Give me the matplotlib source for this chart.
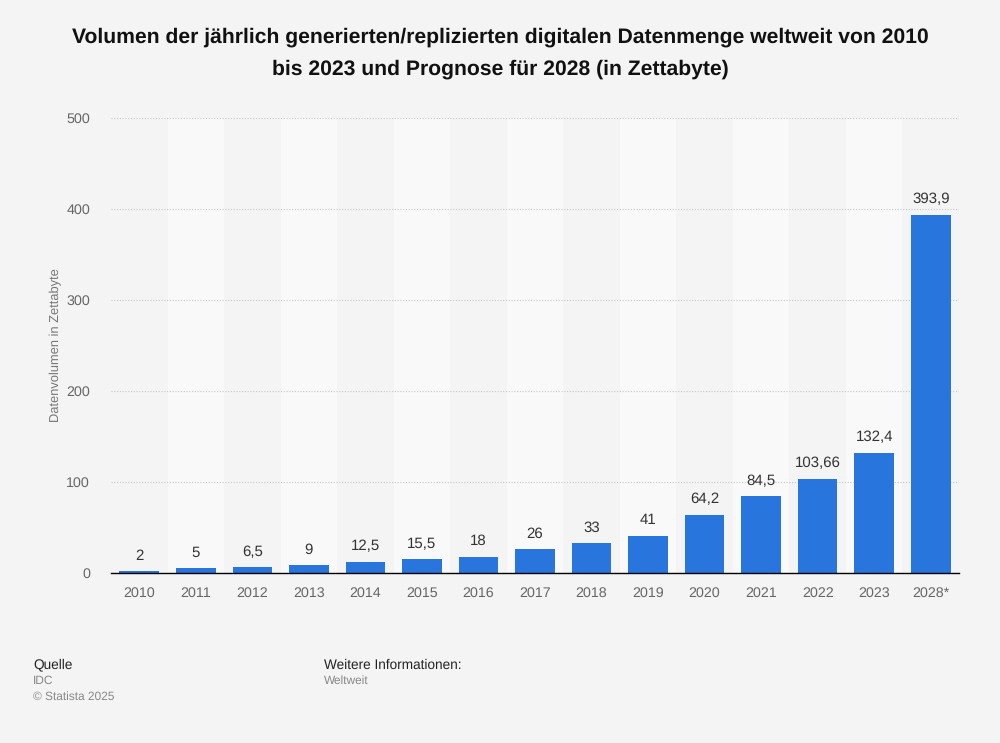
import matplotlib.pyplot as plt
import numpy as np

plt.rcParams['font.family'] = ['Liberation Sans', 'DejaVu Sans']
plt.rcParams['text.hinting'] = 'no_hinting'

# Daten
jahre = ['2010', '2011', '2012', '2013', '2014', '2015', '2016', '2017',
         '2018', '2019', '2020', '2021', '2022', '2023', '2028*']
werte = [2, 5, 6.5, 9, 12.5, 15.5, 18, 26, 33, 41, 64.2, 84.5, 103.66, 132.4, 393.9]
beschriftung = ['2', '5', '6,5', '9', '12,5', '15,5', '18', '26', '33', '41',
                '64,2', '84,5', '103,66', '132,4', '393,9']

bg = '#f4f4f4'
fig = plt.figure(figsize=(10, 7.43), dpi=100, facecolor=bg)
ax = fig.add_axes([0.111, 0.2288, 0.848, 0.6124], facecolor=bg)

x = np.arange(len(jahre))
# abwechselnde Hintergrundstreifen
for i in x:
    if i % 2 == 1:
        ax.axvspan(i - 0.5, i + 0.5, color='#f9f9f9', zorder=0, lw=0)

ax.bar(x, werte, width=0.7, color='#2876dd', zorder=3)
for xi, w, s in zip(x, werte, beschriftung):
    ax.text(xi, w + 9, s, ha='center', va='bottom', fontsize=10.8, color='#333333', zorder=4)

ax.set_xlim(-0.5, len(jahre) - 0.5)
ax.set_ylim(0, 500)
ax.set_yticks([0, 100, 200, 300, 400, 500])
ax.set_xticks(x)
ax.set_xticklabels(jahre)
ax.yaxis.grid(True, linestyle=(0, (1, 1.5)), color='#c8c8c8', lw=0.8, zorder=1)
ax.tick_params(axis='both', length=0, labelsize=10.3, labelcolor='#666666')
ax.tick_params(axis='x', pad=10)
ax.tick_params(axis='y', pad=15)
for s in ['top', 'right', 'left']:
    ax.spines[s].set_visible(False)
ax.spines['bottom'].set_color('#000000')
ax.spines['bottom'].set_linewidth(1)
ax.spines['bottom'].set_zorder(5)
ax.set_ylabel('Datenvolumen in Zettabyte', fontsize=9.3, color='#777777')
ax.yaxis.set_label_coords(-0.058, 0.5)

fig.text(0.5, 0.9637, 'Volumen der jährlich generierten/replizierten digitalen Datenmenge weltweit von 2010\n'
         'bis 2023 und Prognose für 2028 (in Zettabyte)',
         ha='center', va='top', fontsize=15.2, fontweight='bold', color='#111111', linespacing=1.82)

fig.text(0.033, 1 - 665 / 743, 'Quelle', fontsize=9.8, color='#222222', va='center')
fig.text(0.033, 1 - 681 / 743, 'IDC', fontsize=8.6, color='#888888', va='center')
fig.text(0.033, 1 - 697 / 743, '© Statista 2025', fontsize=8.6, color='#888888', va='center')
fig.text(0.324, 1 - 665 / 743, 'Weitere Informationen:', fontsize=9.8, color='#222222', va='center')
fig.text(0.324, 1 - 681 / 743, 'Weltweit', fontsize=8.6, color='#888888', va='center')

fig.savefig('out.png', dpi=100, facecolor=bg)
